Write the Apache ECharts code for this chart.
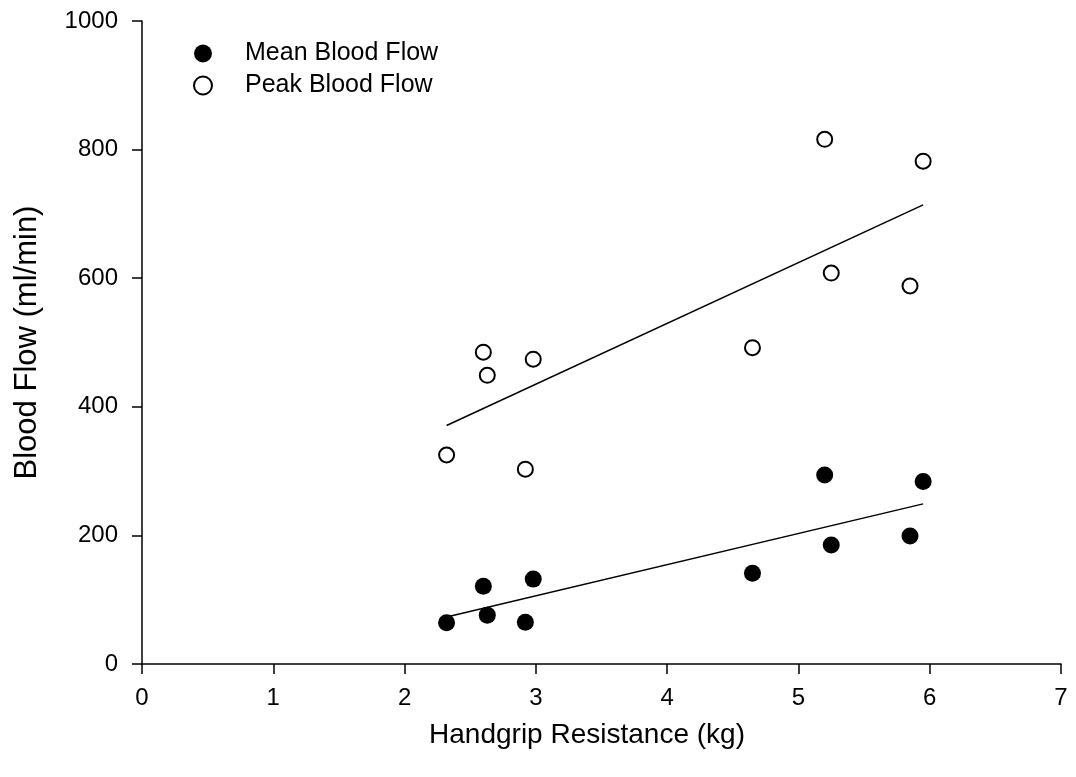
<!DOCTYPE html>
<html>
<head>
<meta charset="utf-8">
<script src="https://cdn.jsdelivr.net/npm/echarts@6/dist/echarts.min.js"></script>
<style>
html,body{margin:0;padding:0;background:#fff;}
#chart{width:1076px;height:777px;}
</style>
</head>
<body>
<div id="chart"></div>
<script>
// Handgrip resistance (kg)
const resistance = [2.32, 2.60, 2.63, 2.92, 2.98, 4.65, 5.20, 5.25, 5.85, 5.95];
// Mean blood flow (ml/min)
const meanFlow = [64, 121, 76, 65, 132, 141, 294, 185, 199, 284];
// Peak blood flow (ml/min)
const peakFlow = [325, 485, 449, 303, 474, 492, 816, 608, 588, 782];
// Regression line end points [x, y]
const meanFit = [[2.32, 73], [5.95, 249]];
const peakFit = [[2.32, 371], [5.95, 714]];
const xTicks = [0, 1, 2, 3, 4, 5, 6, 7];
const yTicks = [0, 200, 400, 600, 800, 1000];

const FONT = '"Liberation Sans", Arial, sans-serif';
const chart = echarts.init(document.getElementById('chart'), null, {renderer: 'canvas'});

const pairs = (xs, ys) => xs.map((x, i) => [x, ys[i]]);

chart.setOption({
  animation: false,
  backgroundColor: '#ffffff',
  grid: {left: 142, right: 15, top: 21, bottom: 113, containLabel: false},
  legend: {
    left: 188, top: 36, orient: 'vertical', itemGap: 7,
    itemWidth: 18, itemHeight: 18,
    data: ['Mean Blood Flow', 'Peak Blood Flow'],
    textStyle: {fontFamily: FONT, fontSize: 25, lineHeight: 25, color: '#000', padding: [0, 0, 0, 28]}
  },
  xAxis: {
    type: 'value', min: 0, max: 7, interval: 1,
    name: 'Handgrip Resistance (kg)', nameLocation: 'middle', nameGap: 57,
    nameTextStyle: {fontFamily: FONT, fontSize: 28, color: '#000', padding: [0, 29, 0, 0]},
    axisLine: {show: true, onZero: false, lineStyle: {color: '#000', width: 1.5}},
    axisTick: {show: true, length: 10, inside: false, lineStyle: {color: '#000', width: 1.5}},
    axisLabel: {fontFamily: FONT, fontSize: 24, color: '#000', margin: 22,
      formatter: v => xTicks.includes(v) ? String(v) : ''},
    splitLine: {show: false}
  },
  yAxis: {
    type: 'value', min: 0, max: 1000, interval: 200,
    name: 'Blood Flow (ml/min)', nameLocation: 'middle', nameGap: 99,
    nameTextStyle: {fontFamily: FONT, fontSize: 31, color: '#000'},
    axisLine: {show: true, onZero: false, lineStyle: {color: '#000', width: 1.5}},
    axisTick: {show: true, length: 10, inside: false, lineStyle: {color: '#000', width: 1.5}},
    axisLabel: {fontFamily: FONT, fontSize: 24, color: '#000', margin: 24,
      formatter: v => yTicks.includes(v) ? String(v) : ''},
    splitLine: {show: false}
  },
  series: [
    {
      name: 'Mean Blood Flow', type: 'scatter', symbol: 'circle', symbolSize: 17,
      itemStyle: {color: '#000', borderColor: '#000', borderWidth: 0, opacity: 1},
      data: pairs(resistance, meanFlow), z: 3
    },
    {
      name: 'Peak Blood Flow', type: 'scatter', symbol: 'circle', symbolSize: 15,
      itemStyle: {color: '#fff', borderColor: '#000', borderWidth: 2, opacity: 1},
      data: pairs(resistance, peakFlow), z: 3
    },
    {
      name: 'meanFit', type: 'line', data: meanFit, symbol: 'none',
      lineStyle: {color: '#000', width: 1.5}, silent: true, z: 2
    },
    {
      name: 'peakFit', type: 'line', data: peakFit, symbol: 'none',
      lineStyle: {color: '#000', width: 1.5}, silent: true, z: 2
    }
  ]
});
</script>
</body>
</html>
